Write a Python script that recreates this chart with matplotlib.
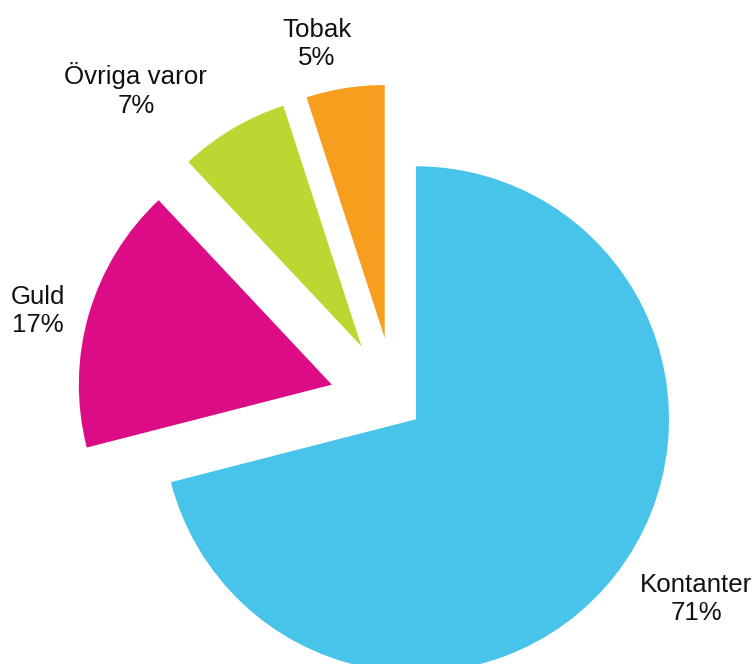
import matplotlib.pyplot as plt

# data
categories = ['Kontanter', 'Guld', 'Övriga varor', 'Tobak']
shares = [71, 17, 7, 5]
colors = ['#48c3ea', '#dc0c87', '#bdd631', '#f79e1f']

# how far each slice is pulled out, and where the labels sit (data units, radius = 1)
explode = [0.105, 0.26, 0.26, 0.26]
label_pos = [(1.190, -0.775), (-1.411, 0.364), (-1.024, 1.237), (-0.308, 1.419)]

plt.rcParams['font.family'] = ['Liberation Sans', 'DejaVu Sans']

fig = plt.figure(figsize=(7.55, 6.64), dpi=100)
ax = fig.add_axes([0, 0, 1, 1])

ax.pie(shares, colors=colors, explode=explode, startangle=90, counterclock=False,
       radius=1, wedgeprops={'linewidth': 0})

for name, val, (x, y) in zip(categories, shares, label_pos):
    ax.text(x, y, f'{name}\n{val}%', ha='center', va='center', multialignment='center',
            fontsize=18.6, linespacing=1.22, color='#111111')

# pie centre sits at (395, 403) px, 253 px per unit
ax.set_xlim(-395 / 253, (755 - 395) / 253)
ax.set_ylim(-(664 - 403) / 253, 403 / 253)
ax.set_aspect('auto')
ax.axis('off')

plt.savefig('out.png', dpi=100)
